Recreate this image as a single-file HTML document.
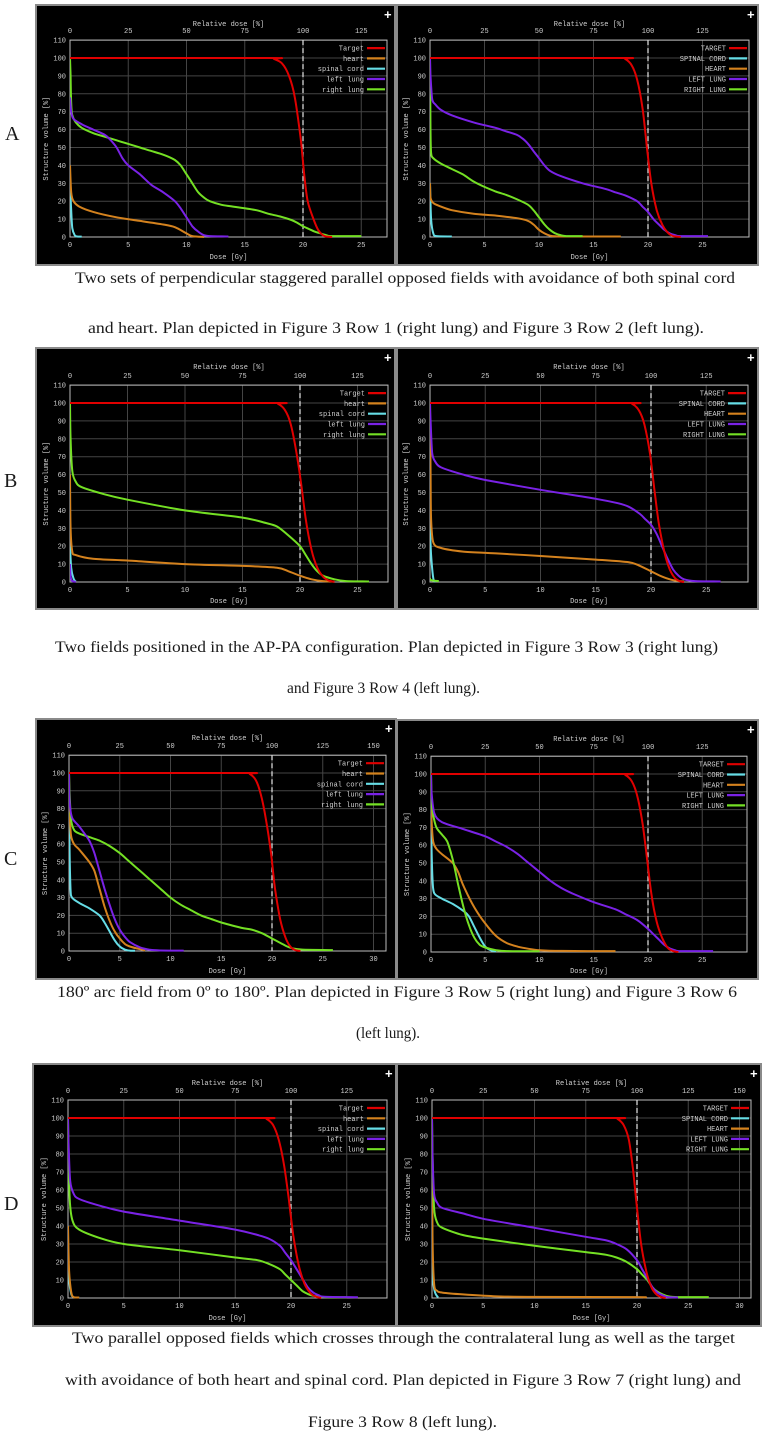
<!DOCTYPE html>
<html><head><meta charset="utf-8">
<style>
html,body{margin:0;padding:0;background:#fff;}
svg{display:block;}
.tk{font-family:"Liberation Mono",monospace;font-size:7px;fill:#cfcfcf;}
.cap{font-family:"Liberation Serif",serif;font-size:16px;fill:#1a1a1a;}
.lbl{font-family:"Liberation Serif",serif;font-size:20px;fill:#1a1a1a;}
</style></head>
<body>
<svg id="fig" width="766" height="1436" viewBox="0 0 766 1436" xmlns="http://www.w3.org/2000/svg">
<rect x="0" y="0" width="766" height="1436" fill="#fff"/>
<text class="lbl" x="5" y="140">A</text>
<text class="lbl" x="4" y="487">B</text>
<text class="lbl" x="4" y="865">C</text>
<text class="lbl" x="4" y="1210">D</text>

<text class="cap" x="75" y="283" textLength="660" lengthAdjust="spacingAndGlyphs">Two sets of perpendicular staggered parallel opposed fields with avoidance of both spinal cord</text>
<text class="cap" x="88" y="333" textLength="616" lengthAdjust="spacingAndGlyphs">and heart. Plan depicted in Figure 3 Row 1 (right lung) and Figure 3 Row 2 (left lung).</text>
<text class="cap" x="55" y="652" textLength="663" lengthAdjust="spacingAndGlyphs">Two fields positioned in the AP-PA configuration. Plan depicted in Figure 3 Row 3 (right lung)</text>
<text class="cap" x="287" y="693" textLength="193" lengthAdjust="spacingAndGlyphs">and Figure 3 Row 4 (left lung).</text>
<text class="cap" x="57" y="997" textLength="680" lengthAdjust="spacingAndGlyphs">180º arc field from 0º to 180º. Plan depicted in Figure 3 Row 5 (right lung) and Figure 3 Row 6</text>
<text class="cap" x="356" y="1038" textLength="64" lengthAdjust="spacingAndGlyphs">(left lung).</text>
<text class="cap" x="72" y="1343" textLength="663" lengthAdjust="spacingAndGlyphs">Two parallel opposed fields which crosses through the contralateral lung as well as the target</text>
<text class="cap" x="65" y="1385" textLength="676" lengthAdjust="spacingAndGlyphs">with avoidance of both heart and spinal cord. Plan depicted in Figure 3 Row 7 (right lung) and</text>
<text class="cap" x="308" y="1427" textLength="189" lengthAdjust="spacingAndGlyphs">Figure 3 Row 8 (left lung).</text>
</svg>
<script>
// ---- data (dose Gy, volume %) ----
const labelsLower = ["Target","heart","spinal cord","left lung","right lung"];
const labelsUpper = ["TARGET","SPINAL CORD","HEART","LEFT LUNG","RIGHT LUNG"];
const doseTicks25 = [0,5,10,15,20,25];
const doseTicks30 = [0,5,10,15,20,25,30];
const relTicks125 = [0,25,50,75,100,125];
const relTicks150 = [0,25,50,75,100,125,150];
const volTicks = [0,10,20,30,40,50,60,70,80,90,100,110];

const A1_target=[[0,100],[17,100],[17.5,99.5],[18.2,97],[18.8,90],[19.3,78],[19.8,55],[20.1,35],[20.4,20],[20.9,10],[21.3,4],[21.7,1],[22,0.3],[22.5,0]];
const A1_heart=[[0,40],[0.1,25],[0.3,20],[0.8,17],[2,14],[4,11],[6,9],[8,7],[9,5.5],[10,2],[10.5,0.5],[11.5,0]];
const A1_cord=[[0,30],[0.1,15],[0.2,5],[0.4,1],[0.6,0.3],[1,0.2]];
const A1_left=[[0,78],[0.1,70],[0.3,66],[1,63],[2,60],[3,57],[3.5,54],[4,50],[4.5,44],[5,40],[6,35],[7,29],[8,25],[9,20],[9.5,16],[10,11],[10.5,6],[11,3],[11.5,1],[12,0.5],[13.6,0.3]];
const A1_right=[[0,100],[0.05,90],[0.1,75],[0.2,68],[0.5,64],[1,61],[2,58],[3,56],[4,54],[5,52],[6,50],[7,48],[8,46],[9,43],[9.5,40],[10,35],[10.5,30],[11,25],[11.5,22],[12,20],[13,18],[14,17],[16,15],[17,13],[18,11.5],[19,9.5],[19.5,8],[20,6],[20.5,4.5],[21,3],[21.5,2],[22,1],[22.5,0.5],[25,0.5]];

const A2_target=[[0,100],[17.4,100],[17.9,99.5],[18.5,96],[19,88],[19.5,72],[19.9,50],[20.3,30],[20.8,15],[21.3,7],[21.8,2.5],[22.3,0.5],[23,0]];
const A2_cord=[[0,30],[0.1,10],[0.3,2],[0.6,0.5],[2,0.3]];
const A2_heart=[[0,30],[0.05,22],[0.3,19],[1,17],[2,15],[4,13],[6,12],[8,10.5],[9,9],[9.5,7],[10,4],[10.5,2],[11,0.8],[12,0.3],[17.5,0.3]];
const A2_left=[[0,100],[0.05,90],[0.2,77],[0.5,74],[1,71],[2,68],[4,64],[6,61],[7,59],[8,57],[8.5,55],[9,52],[9.5,48],[10,44],[10.5,40],[11,37],[12,34],[14,30],[16,27],[17,25],[18,23],[19,20],[19.5,17],[20,14],[20.5,10],[21,7],[21.5,4],[22,2],[22.5,1],[23,0.5],[25.5,0.5]];
const A2_right=[[0,100],[0.05,60],[0.1,47],[0.3,44],[1,41],[2,38],[3,35],[4,31],[5,28],[6,25.5],[7,23.5],[8,21],[9,18],[9.5,15],[10,11],[10.5,7],[11,4],[11.5,2],[12,1],[12.5,0.5],[14,0.5]];

const B1_target=[[0,100],[17.6,100],[18.1,99.5],[18.7,96],[19.2,88],[19.7,72],[20.1,55],[20.5,35],[21,18],[21.5,8],[22,3],[22.5,0.8],[23,0]];
const B1_heart=[[0,60],[0.05,30],[0.2,17],[0.5,15],[2,13],[5,12],[10,10],[15,9],[18,8],[19,6],[20,3.5],[21,1.5],[22,0.5],[23,0.2]];
const B1_cord=[[0,20],[0.1,8],[0.3,2],[0.5,0.3]];
const B1_left=[[0,10],[0.05,3],[0.2,0.5],[0.5,0.2]];
const B1_right=[[0,100],[0.05,80],[0.2,62],[0.5,56],[1,53],[3,49],[5,46],[10,40],[15,36],[17,33],[18,31],[19,26],[20,20],[20.5,15],[21,10],[21.5,6],[22,3.5],[23,1.5],[24,0.5],[26,0.3]];

const B2_target=[[0,100],[17.8,100],[18.3,99.5],[18.9,96],[19.4,88],[19.9,72],[20.3,52],[20.7,33],[21.2,17],[21.7,7],[22.2,2],[22.7,0.3],[23,0]];
const B2_cord=[[0,30],[0.1,15],[0.3,2],[0.5,0]];
const B2_heart=[[0,100],[0.05,60],[0.1,35],[0.3,22],[1,19],[3,17],[6,16],[10,14.5],[15,12.5],[18,11],[19,9],[20,6],[21,3],[22,1],[23,0.2]];
const B2_left=[[0,100],[0.05,90],[0.2,72],[0.5,67],[1,64],[3,60],[5,57],[10,51.5],[15,46.5],[17,44],[18,42],[19,38],[19.5,35],[20,32],[20.5,27],[21,20],[21.5,13],[22,7],[22.5,3.5],[23,1.5],[24,0.5],[26.3,0.3]];
const B2_right=[[0,2],[0.1,1],[0.8,0.5]];

const C1_target=[[0,100],[17.3,100],[17.8,99.5],[18.4,96],[18.9,88],[19.4,74],[19.9,55],[20.3,35],[20.8,18],[21.3,8],[21.8,2.5],[22.3,0.5],[22.8,0]];
const C1_heart=[[0,100],[0.05,80],[0.2,65],[0.5,60],[1,57],[2,50],[2.5,45],[3,35],[3.5,25],[4,17],[4.5,11],[5,7],[5.5,4],[6,2.5],[7,1],[7.5,0.3]];
const C1_cord=[[0,100],[0.05,60],[0.15,35],[0.3,30],[1,27],[2,24],[3,20],[3.5,16],[4,11],[4.5,6],[5,2.5],[5.5,0.8],[6,0.2],[6.5,0.1]];
const C1_left=[[0,100],[0.05,85],[0.3,75],[1,70],[2,62],[2.5,55],[3,45],[3.5,35],[4,26],[4.5,18],[5,12],[5.5,8],[6,5],[7,2],[8,0.7],[9,0.3],[11.3,0.2]];
const C1_right=[[0,100],[0.05,90],[0.2,74],[0.5,68],[1,66],[2,64],[3,62],[4,59],[5,55],[6,50],[7,45],[8,40],[9,35],[10,30],[11,26],[12,23],[13,20],[14,18],[15,16],[17,13],[18,12],[19,10],[20,7],[21,4],[21.5,2.5],[22,1.5],[23,0.8],[26,0.5]];

const C2_target=[[0,100],[17.4,100],[17.9,99.5],[18.5,96],[19,88],[19.5,72],[19.9,53],[20.3,33],[20.8,17],[21.3,8],[21.8,2.5],[22.3,0.5],[22.8,0]];
const C2_cord=[[0,100],[0.05,60],[0.15,40],[0.3,33],[1,30],[2,27],[3,23],[3.5,20],[4,14],[4.5,8],[5,3],[5.5,1],[6,0.3]];
const C2_heart=[[0,100],[0.05,75],[0.2,62],[0.5,58],[1,55],[2,50],[2.5,45],[3,37],[4,25],[5,16],[6,9],[7,5],[8,3],[9,1.8],[10,1],[12,0.6],[17,0.5]];
const C2_left=[[0,100],[0.05,90],[0.3,78],[1,73],[3,69],[5,65],[6,62],[7,59],[8,55],[9,50],[10,45],[11,40],[12,36],[13,33],[15,28],[17,24],[18,21],[19,18],[20,13],[20.5,10],[21,7],[21.5,4],[22,2],[22.5,1],[23,0.5],[26,0.5]];
const C2_right=[[0,100],[0.05,85],[0.2,77],[0.5,70],[1,66],[1.5,62],[2,52],[2.5,38],[3,25],[3.5,15],[4,8],[4.5,4],[5,2.5],[6,1],[7,0.5],[10,0.4]];

const D1_target=[[0,100],[17.3,100],[17.8,99.5],[18.4,96],[18.9,88],[19.4,73],[19.8,55],[20.2,35],[20.7,18],[21.2,8],[21.7,3],[22.2,0.8],[22.7,0]];
const D1_heart=[[0,40],[0.1,15],[0.3,3],[0.5,0.5],[1,0.3]];
const D1_cord=[[0,30],[0.1,10],[0.3,2],[0.5,0.3]];
const D1_left=[[0,100],[0.05,85],[0.2,65],[0.5,58],[1,55],[3,51],[5,48],[10,43],[15,38],[17,35],[18,33],[19,29],[19.5,25],[20,21],[20.5,16],[21,11],[21.5,6],[22,3],[22.5,1.5],[23,0.7],[26,0.4]];
const D1_right=[[0,100],[0.05,80],[0.15,55],[0.4,43],[1,38],[3,33],[5,30],[10,26.5],[15,22.5],[17,21],[18,19],[19,16],[19.5,13],[20,10],[20.5,7],[21,4],[21.5,2.3],[22,1.2],[23,0.5],[25,0.4]];

const D2_target=[[0,100],[17.6,100],[18.1,99.5],[18.7,96],[19.2,88],[19.6,72],[20,50],[20.4,30],[20.9,15],[21.4,6],[21.9,2],[22.4,0.4],[22.8,0]];
const D2_cord=[[0,25],[0.1,10],[0.3,3],[0.6,0.3]];
const D2_heart=[[0,100],[0.05,35],[0.2,8],[0.5,4],[1,3],[3,2],[6,1],[10,0.6],[20,0.5],[20.7,0.3]];
const D2_left=[[0,100],[0.05,80],[0.2,58],[0.5,53],[1,50],[3,47],[5,44],[10,39],[15,34],[17,32],[18,30],[19,27],[20,21],[20.5,16],[21,11],[21.5,6],[22,3],[22.5,1.5],[23,0.5],[24,0.3]];
const D2_right=[[0,100],[0.05,80],[0.2,50],[0.5,42],[1,39],[3,35],[5,33],[10,29],[15,25.5],[17,24],[18,22.5],[19,20],[20,16],[20.5,13],[21,10],[21.5,6],[22,3.5],[22.5,2],[23,1],[24,0.5],[27,0.5]];

const COL={target:"#e00000",heart:"#d4821e",cord:"#66dde6",left:"#7a22e6",right:"#74e024"};

const charts=[
 {id:"a-left",f:[36,5,395,265],p:[70,303,387,237,58],dt:doseTicks25,rt:relTicks125,lab:labelsLower,order:["target","heart","cord","left","right"],s:{target:A1_target,heart:A1_heart,cord:A1_cord,left:A1_left,right:A1_right}},
 {id:"a-right",f:[397,5,758,265],p:[430,648,749,237,58],dt:doseTicks25,rt:relTicks125,lab:labelsUpper,order:["target","cord","heart","left","right"],s:{target:A2_target,heart:A2_heart,cord:A2_cord,left:A2_left,right:A2_right}},
 {id:"b-left",f:[36,348,395,609],p:[70,300,388,582,403],dt:doseTicks25,rt:relTicks125,lab:labelsLower,order:["target","heart","cord","left","right"],s:{target:B1_target,heart:B1_heart,cord:B1_cord,left:B1_left,right:B1_right}},
 {id:"b-right",f:[397,348,758,609],p:[430,651,748,582,403],dt:doseTicks25,rt:relTicks125,lab:labelsUpper,order:["target","cord","heart","left","right"],s:{target:B2_target,heart:B2_heart,cord:B2_cord,left:B2_left,right:B2_right}},
 {id:"c-left",f:[36,719,396,979],p:[69,272,386,951,773],dt:doseTicks30,rt:relTicks150,lab:labelsLower,order:["target","heart","cord","left","right"],s:{target:C1_target,heart:C1_heart,cord:C1_cord,left:C1_left,right:C1_right}},
 {id:"c-right",f:[397,720,758,979],p:[431,648,747,952,774],dt:doseTicks25,rt:relTicks125,lab:labelsUpper,order:["target","cord","heart","left","right"],s:{target:C2_target,heart:C2_heart,cord:C2_cord,left:C2_left,right:C2_right}},
 {id:"d-left",f:[33,1064,396,1326],p:[68,291,387,1298,1118],dt:doseTicks25,rt:relTicks125,lab:labelsLower,order:["target","heart","cord","left","right"],s:{target:D1_target,heart:D1_heart,cord:D1_cord,left:D1_left,right:D1_right}},
 {id:"d-right",f:[397,1064,761,1326],p:[432,637,751,1298,1118],dt:doseTicks30,rt:relTicks150,lab:labelsUpper,order:["target","cord","heart","left","right"],s:{target:D2_target,heart:D2_heart,cord:D2_cord,left:D2_left,right:D2_right}}
];

const NS="http://www.w3.org/2000/svg";
const svg=document.getElementById("fig");
function mk(tag,attrs,parent){const e=document.createElementNS(NS,tag);for(const k in attrs)e.setAttribute(k,attrs[k]);(parent||svg).appendChild(e);return e;}
function smoothPath(P){
 if(P.length<3){return "M"+P.map(p=>p[0].toFixed(1)+","+p[1].toFixed(1)).join(" L");}
 let d="M"+P[0][0].toFixed(1)+","+P[0][1].toFixed(1);
 for(let i=0;i<P.length-1;i++){
  const p0=P[Math.max(0,i-1)],p1=P[i],p2=P[i+1],p3=P[Math.min(P.length-1,i+2)];
  const k=1/7;
  const c1x=p1[0]+(p2[0]-p0[0])*k,c1y=p1[1]+(p2[1]-p0[1])*k;
  const c2x=p2[0]-(p3[0]-p1[0])*k,c2y=p2[1]-(p3[1]-p1[1])*k;
  d+=` C${c1x.toFixed(1)},${c1y.toFixed(1)} ${c2x.toFixed(1)},${c2y.toFixed(1)} ${p2[0].toFixed(1)},${p2[1].toFixed(1)}`;
 }
 return d;
}

charts.forEach(c=>{
 const g=mk("g",{});
 
 
 const [fx1,fy1,fx2,fy2]=c.f;const [x0,x20,xR,y0,y100]=c.p;
 const sx=(x20-x0)/20, sy=(y0-y100)/100;
 const X=d=>x0+d*sx, Y=v=>y0-v*sy;
 const yT=Y(110);
 const frame=mk("rect",{x:fx1,y:fy1,width:fx2-fx1,height:fy2-fy1,fill:"#000",stroke:"#8a8a8a","stroke-width":2},g);
 
 
 const plus=mk("text",{x:fx2-11,y:fy1+14,fill:"#fff","font-family":"Liberation Sans,sans-serif","font-size":"13","font-weight":"bold"},g);plus.textContent="+";
 
 
 volTicks.forEach(v=>{
  const l=mk("line",{x1:x0,x2:xR,y1:Y(v),y2:Y(v),stroke:"#444","stroke-width":1},g);
  
  
  const t=mk("text",{x:x0-4,y:Y(v)+2.5,"text-anchor":"end",class:"tk"},g);t.textContent=v;
  
  
 });
 c.dt.forEach(d=>{
  const l=mk("line",{x1:X(d),x2:X(d),y1:yT,y2:y0,stroke:"#444","stroke-width":1},g);
  
  
  const t=mk("text",{x:X(d),y:y0+10,"text-anchor":"middle",class:"tk"},g);t.textContent=d;
  
  
 });
 c.rt.forEach(r=>{
  const t=mk("text",{x:X(r/5),y:yT-7,"text-anchor":"middle",class:"tk"},g);t.textContent=r;
  
  
 });
 const box=mk("rect",{x:x0,y:yT,width:xR-x0,height:y0-yT,fill:"none",stroke:"#bdbdbd","stroke-width":1},g);
 
 
 const t1=mk("text",{x:(x0+xR)/2,y:fy1+21,"text-anchor":"middle",class:"tk"},g);t1.textContent="Relative dose [%]";
 
 
 const t2=mk("text",{x:(x0+xR)/2,y:fy2-6,"text-anchor":"middle",class:"tk"},g);t2.textContent="Dose [Gy]";
 
 
 const ym=(yT+y0)/2;
 const t3=mk("text",{x:x0-22,y:ym,"text-anchor":"middle",class:"tk",transform:`rotate(-90 ${x0-22} ${ym})`},g);t3.textContent="Structure volume [%]";
 
 
 const dash=mk("line",{x1:X(20),x2:X(20),y1:yT,y2:y0,stroke:"#d8d8d8","stroke-width":1.3,"stroke-dasharray":"5,3"},g);
 
 
 const clipId="clip-"+c.id;
 const cp=mk("clipPath",{id:clipId},g);mk("rect",{x:x0,y:yT,width:xR-x0,height:y0-yT+1},cp);
 ["cord","heart","right","left","target"].forEach(k=>{
  const P=c.s[k].map(p=>[X(p[0]),Y(p[1])]);
  const pl=mk("path",{d:smoothPath(P),fill:"none",stroke:COL[k],"stroke-width":2,"stroke-linejoin":"round","clip-path":`url(#${clipId})`},g);
  
  
 });
 c.order.forEach((k,i)=>{
  const ly=yT+8+i*10.3;
  const lt=mk("text",{x:xR-23,y:ly+2.5,"text-anchor":"end",class:"tk"},g);lt.textContent=c.lab[i];
  
  
  const ll=mk("line",{x1:xR-20,x2:xR-2,y1:ly,y2:ly,stroke:COL[k],"stroke-width":2.2},g);
  
  
 });
});
</script>
</body></html>
